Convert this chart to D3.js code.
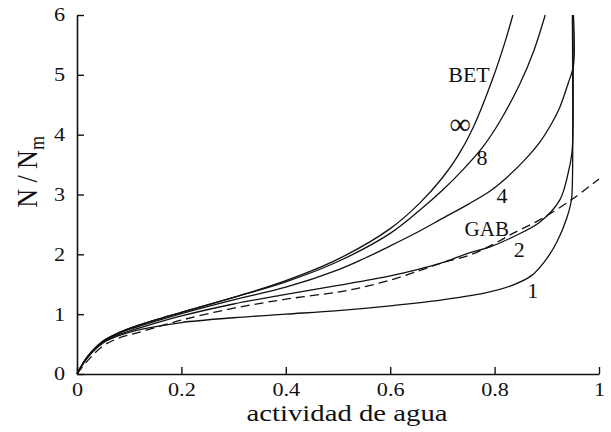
<!DOCTYPE html>
<html>
<head>
<meta charset="utf-8">
<script src="https://cdn.jsdelivr.net/npm/d3@7/dist/d3.min.js"></script>
<style>
  html, body { margin: 0; padding: 0; background: #fff; }
  svg { display: block; }
  text { font-family: "Liberation Serif", "Times New Roman", serif; fill: #111; }
</style>
</head>
<body>
<svg id="chart" width="611" height="432"></svg>
<script>
// Water activity axis ticks and moisture-ratio axis ticks
const xTicks = [0, 0.2, 0.4, 0.6, 0.8, 1];
const yTicks = [0, 1, 2, 3, 4, 5, 6];

// BET isotherm, infinite layers
const betA = [0, 0.02, 0.05, 0.08, 0.12, 0.2, 0.3, 0.4, 0.5, 0.6, 0.657, 0.7, 0.73, 0.759, 0.797, 0.82, 0.835];
const betN = [0, 0.29, 0.55, 0.69, 0.82, 1.03, 1.28, 1.56, 1.92, 2.43, 2.86, 3.28, 3.65, 4.12, 4.95, 5.55, 6.0];

// n = 8 layers
const n8A = [0, 0.02, 0.05, 0.08, 0.12, 0.2, 0.3, 0.4, 0.5, 0.6, 0.657, 0.7, 0.74, 0.778, 0.81, 0.849, 0.875, 0.897];
const n8N = [0, 0.29, 0.55, 0.69, 0.82, 1.03, 1.28, 1.54, 1.88, 2.35, 2.74, 3.07, 3.42, 3.8, 4.22, 4.86, 5.4, 6.0];

// n = 4 layers
const n4A = [0, 0.02, 0.05, 0.08, 0.12, 0.2, 0.3, 0.4, 0.5, 0.55, 0.6, 0.65, 0.7, 0.75, 0.79, 0.824, 0.86, 0.887, 0.91, 0.925, 0.941, 0.951, 0.951];
const n4N = [0, 0.28, 0.54, 0.68, 0.8, 1.01, 1.24, 1.45, 1.74, 1.93, 2.14, 2.36, 2.6, 2.84, 3.05, 3.29, 3.6, 3.88, 4.2, 4.46, 4.86, 5.15, 6.0];

// n = 2 layers
const n2A = [0, 0.02, 0.05, 0.08, 0.12, 0.2, 0.3, 0.4, 0.5, 0.6, 0.65, 0.7, 0.75, 0.79, 0.835, 0.887, 0.925, 0.941, 0.948, 0.95, 0.95];
const n2N = [0, 0.28, 0.53, 0.66, 0.77, 0.97, 1.17, 1.33, 1.48, 1.64, 1.74, 1.86, 2.02, 2.12, 2.29, 2.54, 2.91, 3.36, 3.69, 4.0, 6.0];

// n = 1 layer
const n1A = [0, 0.02, 0.05, 0.08, 0.12, 0.2, 0.3, 0.4, 0.5, 0.6, 0.7, 0.78, 0.83, 0.87, 0.9, 0.92, 0.938, 0.947, 0.949, 0.949];
const n1N = [0, 0.27, 0.52, 0.64, 0.74, 0.86, 0.94, 1.0, 1.06, 1.14, 1.24, 1.35, 1.47, 1.64, 1.93, 2.22, 2.6, 2.9, 3.2, 6.0];

// GAB isotherm (dashed)
const gabA = [0, 0.02, 0.05, 0.08, 0.12, 0.2, 0.3, 0.4, 0.5, 0.542, 0.6, 0.657, 0.7, 0.753, 0.8, 0.835, 0.887, 0.95, 1.0];
const gabN = [0, 0.22, 0.47, 0.6, 0.7, 0.9, 1.1, 1.25, 1.37, 1.44, 1.57, 1.73, 1.86, 1.99, 2.18, 2.35, 2.58, 2.93, 3.26];

// Curve labels (anchor at text centre / baseline)
const labelText = ["BET", "\u221E", "8", "4", "GAB", "2", "1"];
const labelA    = [0.751, 0.734, 0.776, 0.814, 0.785, 0.847, 0.873];
const labelN    = [4.88, 4.01, 3.49, 2.86, 2.31, 1.96, 1.27];
const labelSize = [22, 30, 22, 22, 21, 22, 22];

const svg = d3.select("#chart");

const x = d3.scaleLinear().domain([0, 1]).range([77, 599]);
const y = d3.scaleLinear().domain([0, 6]).range([374, 15]);

// Axes with inward ticks
const xAxis = d3.axisBottom(x).tickValues(xTicks).tickSizeInner(-7).tickSizeOuter(0)
  .tickPadding(9).tickFormat(d => d3.format("")(d));
const yAxis = d3.axisLeft(y).tickValues(yTicks).tickSizeInner(-7).tickSizeOuter(0)
  .tickPadding(10).tickFormat(d3.format("d"));

const gx = svg.append("g").attr("transform", "translate(0,374)").call(xAxis);
const gy = svg.append("g").attr("transform", "translate(77,0)").call(yAxis);

[gx, gy].forEach(g => {
  g.select(".domain").attr("stroke", "#111").attr("stroke-width", 1.6);
  g.selectAll(".tick line").attr("stroke", "#111").attr("stroke-width", 1.4);
  g.selectAll(".tick text")
    .attr("font-family", "Liberation Serif")
    .attr("font-size", 18.5)
    .attr("fill", "#222")
    .attr("transform", "scale(1.2,1)");
});
gx.selectAll(".tick text").attr("y", 9).attr("dy", "0.7em");

// Isotherm curves
const line = d3.line()
  .x(d => x(d[0]))
  .y(d => y(d[1]))
  .curve(d3.curveCatmullRom.alpha(0.5));

const zip = (a, n) => a.map((v, i) => [v, n[i]]);

const plot = svg.append("g");
const solid = [zip(betA, betN), zip(n8A, n8N), zip(n4A, n4N), zip(n2A, n2N), zip(n1A, n1N)];

plot.selectAll("path.iso")
  .data(solid)
  .join("path")
  .attr("class", "iso")
  .attr("d", line)
  .attr("fill", "none")
  .attr("stroke", "#111")
  .attr("stroke-width", 1.3);

plot.append("path")
  .datum(zip(gabA, gabN))
  .attr("d", line)
  .attr("fill", "none")
  .attr("stroke", "#111")
  .attr("stroke-width", 1.3)
  .attr("stroke-dasharray", "9,5");

// Curve labels
plot.selectAll("text.lbl")
  .data(labelText)
  .join("text")
  .attr("class", "lbl")
  .attr("transform", (d, i) => `translate(${x(labelA[i])},${y(labelN[i])})`)
  .attr("font-size", (d, i) => labelSize[i])
  .attr("text-anchor", "middle")
  .text(d => d);

// Axis titles
svg.append("text")
  .attr("transform", "translate(347,421) scale(1.25,1)")
  .attr("text-anchor", "middle")
  .attr("font-size", 23)
  .text("actividad de agua");

const yt = svg.append("text")
  .attr("transform", "translate(37,172) scale(1.15,1) rotate(-90)")
  .attr("text-anchor", "middle")
  .attr("font-size", 26);
yt.append("tspan").text("N / N");
yt.append("tspan").attr("font-size", 18).attr("dy", 6).text("m");
</script>
</body>
</html>
